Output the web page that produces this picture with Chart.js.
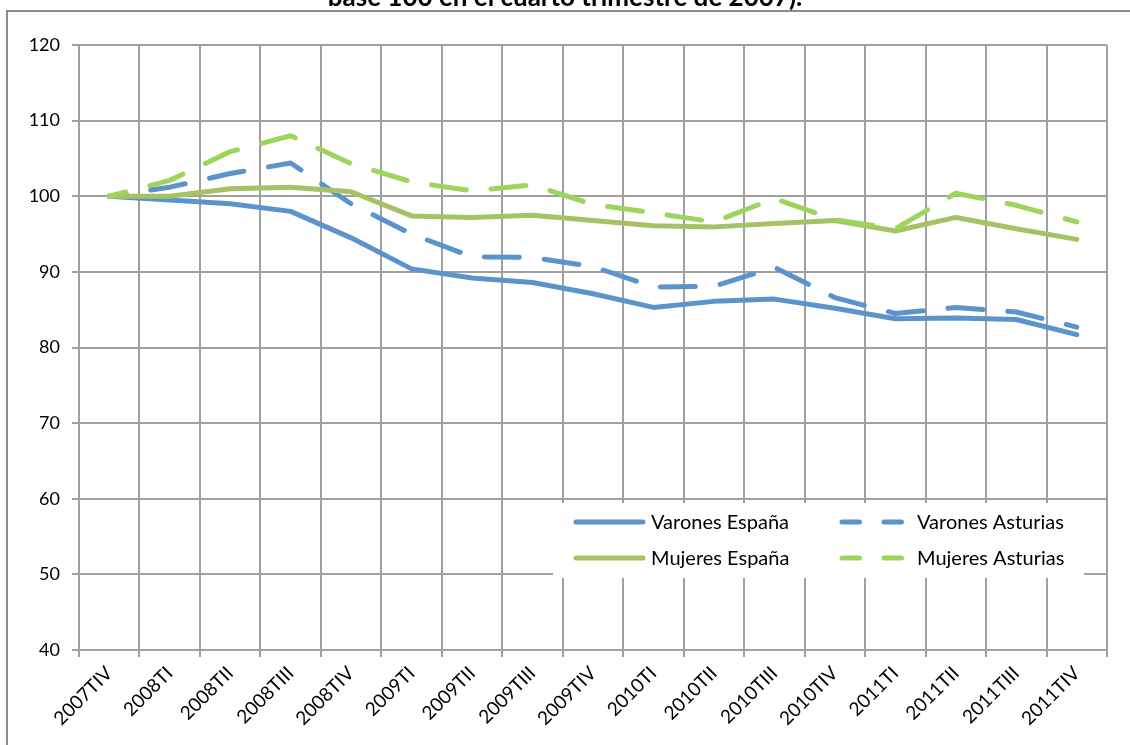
<!DOCTYPE html>
<html>
<head>
<meta charset="utf-8">
<script src="https://cdn.jsdelivr.net/npm/chart.js@4/dist/chart.umd.min.js"></script>
<style>
  html, body { margin: 0; padding: 0; background: #fff; }
  #wrap { position: relative; width: 1130px; height: 745px; }
  canvas { display: block; }
</style>
</head>
<body>
<div id="wrap"><canvas id="c" width="1130" height="745"></canvas></div>
<script>
const titleText = 'base 100 en el cuarto trimestre de 2007).';
const categories = ['2007TIV','2008TI','2008TII','2008TIII','2008TIV','2009TI','2009TII','2009TIII','2009TIV','2010TI','2010TII','2010TIII','2010TIV','2011TI','2011TII','2011TIII','2011TIV'];
const seriesLabels = ['Varones España', 'Varones Asturias', 'Mujeres España', 'Mujeres Asturias'];
const varonesEspana   = [100, 99.5, 99.0, 98.0, 94.5, 90.4, 89.2, 88.6, 87.1, 85.3, 86.1, 86.4, 85.2, 83.8, 83.9, 83.7, 81.7];
const varonesAsturias = [100, 101.2, 103.0, 104.4, 99.0, 95.0, 92.0, 91.9, 90.7, 88.0, 88.1, 90.6, 86.6, 84.5, 85.3, 84.7, 82.7];
const mujeresEspana   = [100, 100.0, 101.0, 101.2, 100.6, 97.4, 97.2, 97.5, 96.8, 96.1, 95.95, 96.4, 96.8, 95.4, 97.2, 95.7, 94.3];
const mujeresAsturias = [100, 102.1, 105.9, 108.0, 104.3, 101.9, 100.7, 101.5, 98.9, 97.8, 96.6, 99.7, 96.9, 95.7, 100.4, 98.8, 96.6];
const yTicks = [40, 50, 60, 70, 80, 90, 100, 110, 120];

const BLUE = '#5b93cb';
const OLIVE = '#a6c265';
const LGREEN = '#9dd45e';
const GRID = '#a0a0a0';
const FONT = 'Lato, "Open Sans", sans-serif';

function ds(label, data, color, dashed, order) {
  return {
    label, data,
    borderColor: color, backgroundColor: color,
    borderWidth: 5,
    borderDash: dashed ? [35, 25] : [],
    borderDashOffset: dashed ? 18 : 0,
    borderCapStyle: 'round',
    borderJoinStyle: 'round',
    pointRadius: 0, pointHoverRadius: 0,
    tension: 0, fill: false,
    order
  };
}

const decorPlugin = {
  id: 'decor',
  beforeDraw(chart) {
    const ctx = chart.ctx;
    ctx.save();
    ctx.fillStyle = '#fff';
    ctx.fillRect(0, 0, chart.width, chart.height);
    // outer border
    ctx.strokeStyle = '#8c8c8c';
    ctx.lineWidth = 2;
    ctx.beginPath();
    ctx.moveTo(7, 760);
    ctx.lineTo(7, 11);
    ctx.lineTo(1140, 11);
    ctx.stroke();
    // title (cut at top)
    ctx.fillStyle = '#000';
    ctx.font = 'bold 26px ' + FONT;
    ctx.textAlign = 'center';
    ctx.textBaseline = 'alphabetic';
    ctx.fillText(titleText, 565, 6);
    ctx.restore();
  },
  afterDatasetsDraw(chart) {
    const ctx = chart.ctx;
    ctx.save();
    // legend box
    ctx.fillStyle = '#fff';
    ctx.fillRect(553, 503, 531, 75);
    const pos = [
      {lx: 574, tx: 651, y: 522},
      {lx: 840, tx: 917, y: 522},
      {lx: 574, tx: 651, y: 558},
      {lx: 840, tx: 917, y: 558}
    ];
    const byLabel = {};
    chart.data.datasets.forEach(d => byLabel[d.label] = d);
    seriesLabels.forEach((lab, i) => {
      const d = byLabel[lab];
      const p = pos[i];
      ctx.strokeStyle = d.borderColor;
      ctx.lineWidth = 5;
      ctx.lineCap = 'round';
      const dashed = d.borderDash && d.borderDash.length;
      ctx.setLineDash(dashed ? [17.5, 24.5] : []);
      ctx.beginPath();
      ctx.moveTo(p.lx + 2, p.y);
      ctx.lineTo(p.lx + 69, p.y);
      ctx.stroke();
      ctx.setLineDash([]);
      ctx.fillStyle = '#000';
      ctx.font = '20px ' + FONT;
      ctx.textAlign = 'left';
      ctx.textBaseline = 'middle';
      ctx.fillText(lab, p.tx, p.y + 1);
    });
    ctx.restore();
  }
};

new Chart(document.getElementById('c'), {
  type: 'line',
  data: {
    labels: categories,
    datasets: [
      ds(seriesLabels[0], varonesEspana, BLUE, false, 4),
      ds(seriesLabels[1], varonesAsturias, BLUE, true, 3),
      ds(seriesLabels[2], mujeresEspana, OLIVE, false, 2),
      ds(seriesLabels[3], mujeresAsturias, LGREEN, true, 1)
    ]
  },
  options: {
    responsive: false,
    animation: false,
    events: [],
    layout: { padding: { left: 0, right: 23, top: 45, bottom: 0 } },
    plugins: {
      legend: { display: false },
      title: { display: false },
      tooltip: { enabled: false }
    },
    scales: {
      x: {
        type: 'category',
        offset: true,
        afterFit(scale) { scale.height = 95; },
        grid: {
          offset: true,
          color: GRID,
          lineWidth: 2,
          tickLength: 7,
          drawTicks: true
        },
        border: { display: true, color: GRID, width: 2 },
        ticks: {
          autoSkip: false,
          maxRotation: 45,
          minRotation: 45,
          padding: 5,
          color: '#000',
          font: { family: FONT, size: 19 }
        }
      },
      y: {
        min: 40, max: 120,
        afterFit(scale) { scale.width = 79; },
        afterBuildTicks(scale) { scale.ticks = yTicks.map(v => ({ value: v })); },
        grid: { color: GRID, lineWidth: 2, tickLength: 7 },
        border: { display: true, color: GRID, width: 2 },
        ticks: {
          padding: 12,
          color: '#000',
          font: { family: FONT, size: 18 }
        }
      }
    }
  },
  plugins: [decorPlugin]
});
</script>
</body>
</html>
